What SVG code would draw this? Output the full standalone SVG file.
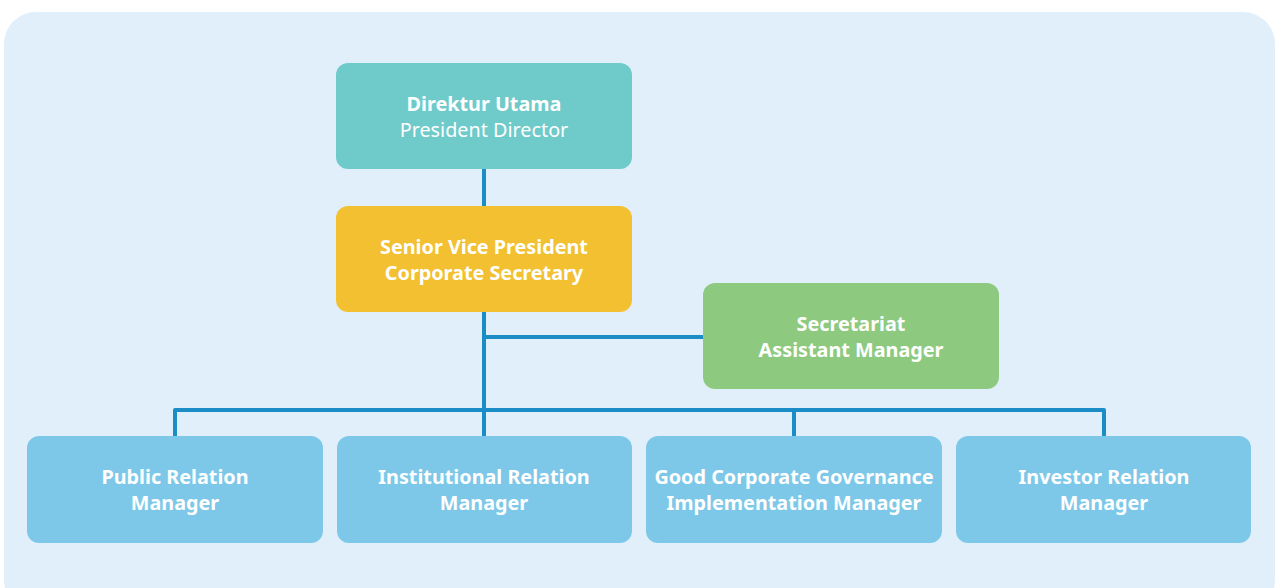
<svg xmlns="http://www.w3.org/2000/svg" width="1276" height="588" viewBox="0 0 1276 588">
<style>
.box{stroke:none}
.t{font-family:"Noto Sans","Lato",sans-serif;font-size:19.8px;fill:#ffffff;text-anchor:middle;font-weight:700}
.r{font-weight:400}
.c{stroke:#1A8CC6;stroke-width:4;fill:none;stroke-linejoin:round}
</style>
<rect x="4" y="12" width="1271" height="600" rx="32" fill="#E1EFFA"/>
<g id="connectors">
<path class="c" d="M484 169V206M484 312V410M484 337H703M175 436V410H1104V436M484 410V436M794 410V436"/>
</g>
<g id="n-direktur">
<rect class="box" x="336" y="63" width="296" height="106" rx="12" fill="#6FCACA"/>
<text class="t" x="484" y="111">Direktur Utama</text>
<text class="t r" x="484" y="137">President Director</text>
</g>
<g id="n-svp">
<rect class="box" x="336" y="206" width="296" height="106" rx="12" fill="#F2C030"/>
<text class="t" x="484" y="254">Senior Vice President</text>
<text class="t" x="484" y="280">Corporate Secretary</text>
</g>
<g id="n-secretariat">
<rect class="box" x="703" y="283" width="296" height="106" rx="12" fill="#8DCA80"/>
<text class="t" x="851" y="331">Secretariat</text>
<text class="t" x="851" y="357">Assistant Manager</text>
</g>
<g id="n-pr">
<rect class="box" x="27" y="436" width="296" height="107" rx="12" fill="#7DC8E8"/>
<text class="t" x="175" y="484">Public Relation</text>
<text class="t" x="175" y="510">Manager</text>
</g>
<g id="n-ir">
<rect class="box" x="337" y="436" width="295" height="107" rx="12" fill="#7DC8E8"/>
<text class="t" x="484" y="484">Institutional Relation</text>
<text class="t" x="484" y="510">Manager</text>
</g>
<g id="n-gcg">
<rect class="box" x="646" y="436" width="296" height="107" rx="12" fill="#7DC8E8"/>
<text class="t" x="794" y="484">Good Corporate Governance</text>
<text class="t" x="794" y="510">Implementation Manager</text>
</g>
<g id="n-inv">
<rect class="box" x="956" y="436" width="295" height="107" rx="12" fill="#7DC8E8"/>
<text class="t" x="1104" y="484">Investor Relation</text>
<text class="t" x="1104" y="510">Manager</text>
</g>
</svg>
